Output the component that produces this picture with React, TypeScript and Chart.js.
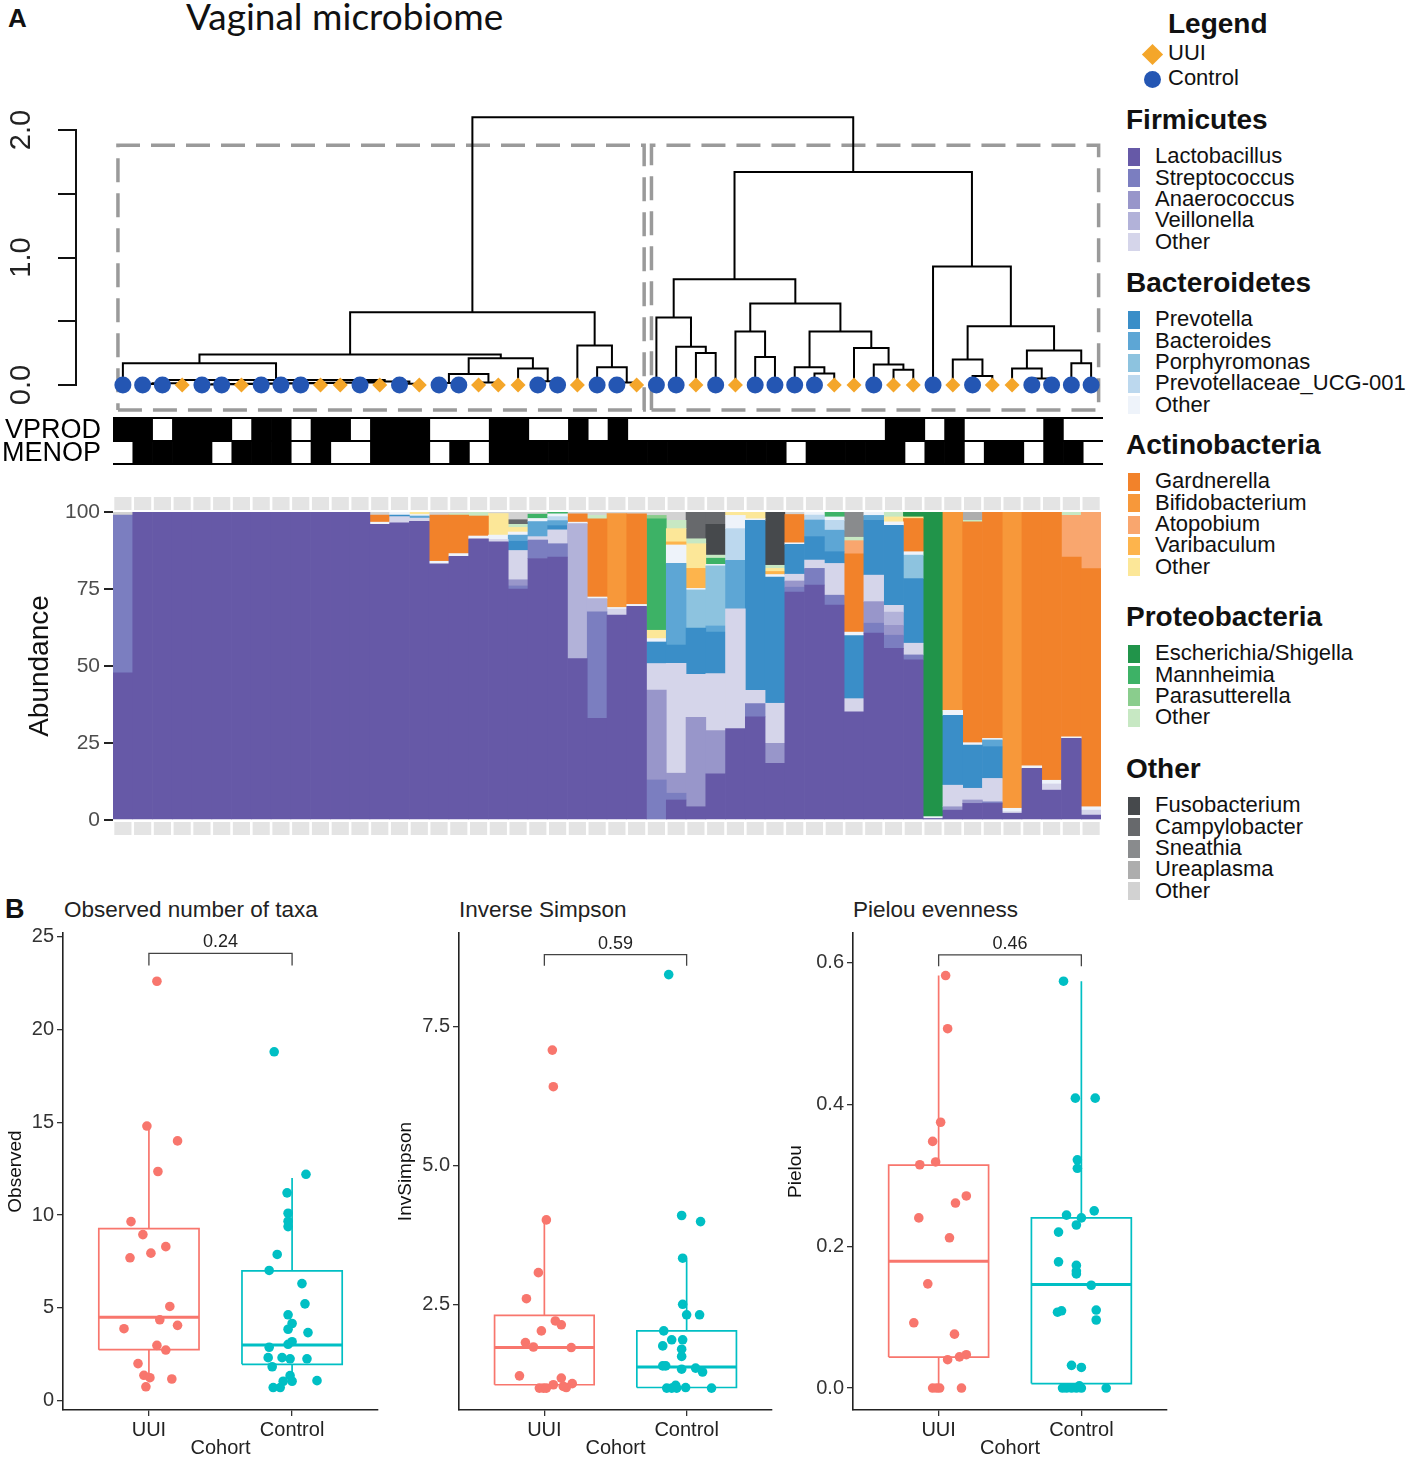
import React, { useEffect, useRef } from 'react';
import { Chart, registerables } from 'chart.js';

Chart.register(...registerables);
const FONT = "'Liberation Sans', Arial, Helvetica, sans-serif";
Chart.defaults.font.family = FONT;

// ================= PANEL A DATA =================
const N_SAMPLES = 50;
const SAMPLE_IDS = Array.from({ length: N_SAMPLES }, (_, i) => `S${i + 1}`);

// U = UUI, C = Control (dendrogram leaf order)
const LEAF_GROUP = [
  'C', 'C', 'C', 'U', 'C', 'C', 'U', 'C', 'C', 'C',
  'U', 'U', 'C', 'U', 'C', 'U', 'C', 'C', 'U', 'U',
  'U', 'C', 'C', 'U', 'C', 'C', 'U', 'C', 'C', 'U',
  'C', 'U', 'C', 'C', 'C', 'C', 'U', 'U', 'C', 'U',
  'U', 'C', 'U', 'C', 'U', 'U', 'C', 'C', 'C', 'C',
];

// hclust-style merges: negative = leaf position, positive = earlier merge row; third = height
const MERGES: [number, number, number][] = [
  [-2, -3, 0.008], [1, -4, 0.014], [-5, -6, 0.004], [3, -7, 0.006], [4, -8, 0.008],
  [5, -9, 0.01], [6, -10, 0.012], [7, -11, 0.014], [8, -12, 0.016], [9, -13, 0.018],
  [10, -14, 0.02], [-15, -16, 0.01], [11, 12, 0.028], [2, 13, 0.04], [-1, 14, 0.17],
  [-17, -18, 0.015], [-19, -20, 0.02], [16, 17, 0.086], [-22, -23, 0.03], [-21, 19, 0.13],
  [18, 20, 0.21], [15, 21, 0.24], [-26, -27, 0.02], [-25, 23, 0.14], [-24, 24, 0.31],
  [22, 25, 0.57],
  [-30, -31, 0.25], [-29, 27, 0.30], [-28, 28, 0.53], [-33, -34, 0.22], [-32, 30, 0.42],
  [-36, -37, 0.09], [-35, 32, 0.14], [-40, -41, 0.12], [-39, 34, 0.16], [-38, 35, 0.29],
  [33, 36, 0.42], [31, 37, 0.64], [29, 38, 0.83], [-44, -45, 0.07], [-43, 40, 0.20],
  [-47, -48, 0.05], [-46, 42, 0.13], [-49, -50, 0.17], [43, 44, 0.27], [41, 45, 0.46],
  [-42, 46, 0.93], [39, 47, 1.67], [26, 48, 2.10],
];
const DENDRO_TICKS = [0, 0.5, 1, 1.5, 2];
const DENDRO_TICK_LABELS = ['0.0', '', '1.0', '', '2.0'];
const CLUSTERS = [[1, 27], [28, 50]];
const CLUSTER_BOX = { padLeft: 0.25, padRight: 0.38, bottom: -0.196, top: 1.88 };

const VPROD = [
  1, 1, 0, 1, 1, 1, 0, 1, 1, 0,
  1, 1, 0, 1, 1, 1, 0, 0, 0, 1,
  1, 0, 0, 1, 0, 1, 0, 0, 0, 0,
  0, 0, 0, 0, 0, 0, 0, 0, 0, 1,
  1, 0, 1, 0, 0, 0, 0, 1, 0, 0,
];
const MENOP = [
  0, 1, 1, 1, 1, 0, 1, 1, 1, 0,
  1, 0, 0, 1, 1, 1, 0, 1, 0, 1,
  1, 1, 1, 1, 1, 1, 1, 1, 1, 1,
  1, 1, 1, 1, 0, 1, 1, 1, 1, 1,
  0, 1, 1, 0, 1, 1, 0, 1, 1, 0,
];

// Relative abundance (%) per sample
const LACTOBACILLUS = [
  47.8, 100, 100, 100, 100, 100, 100, 100, 100, 100,
  100, 100, 100, 96, 96.5, 97, 83.2, 85.6, 91.3, 90.3,
  75, 84.9, 85.4, 52.4, 33, 66.5, 69.4, 0, 6.5, 4.3,
  15, 29.7, 33.5, 18.4, 74, 76.3, 69.8, 35.1, 60.7, 55.7,
  52, 0.5, 3.2, 5.4, 5.4, 2.2, 16.8, 9.7, 26.5, 1.6,
];
const STREPTOCOCCUS: [number, number][] = [[1, 51.2], [21, 1], [22, 6], [23, 4.3], [25, 34.6], [28, 13], [29, 2.2], [33, 4.3], [35, 1.6], [36, 5.4], [37, 3.2], [39, 3.2], [40, 4.3], [41, 1.6], [45, 0.5]];
const ANAEROCOCCUS: [number, number][] = [[21, 2], [28, 29.2], [29, 6.5], [30, 29], [31, 14], [34, 6.5], [35, 2], [39, 7], [40, 3.2], [43, 1.1], [44, 1.1]];
const VEILLONELLA: [number, number][] = [[24, 43.8], [25, 4.3], [40, 4.3]];
const FIRMICUTES_OTHER = [
  0, 0, 0, 0, 0, 0, 0, 0, 0, 0,
  0, 0, 0, 0, 2, 1, 0, 0, 0, 0.8,
  9.5, 1.1, 4.5, 0, 0, 2, 0, 8.6, 35.7, 14,
  18.5, 38.9, 4.3, 13, 2.2, 2.7, 10.3, 4.3, 8.6, 2.2,
  3.8, 0, 7, 3.8, 7.6, 0.5, 0, 2, 0, 1.6,
];
const PREVOTELLA = [
  0, 0, 0, 0, 0, 0, 0, 0, 0, 0,
  0, 0, 0, 0, 0.5, 0, 0, 0, 0, 0,
  3, 0, 1.4, 0, 0, 0, 0, 7, 5.9, 15,
  13.5, 0, 55.2, 41, 9.7, 7.6, 3.8, 20.5, 17.8, 26,
  21, 0, 22.7, 14, 10.3, 0, 0, 0, 0, 0,
];
const BACTEROIDES: [number, number][] = [[16, 0.7], [21, 2], [22, 4.9], [23, 1.6], [29, 26.5], [31, 2], [32, 15.7], [36, 5.4], [37, 7], [39, 1.6], [45, 2.2]];
const PORPHYROMONAS: [number, number][] = [[30, 12.4], [31, 19.5], [41, 7.6]];
const PREVOTELLACEAE_UCG001: [number, number][] = [[23, 1.3], [32, 10.3], [36, 1.6], [37, 3.2]];
const BACTEROIDETES_OTHER = [
  0, 0, 0, 0, 0, 0, 0, 0, 0, 0,
  0, 0, 0, 0.7, 1, 0.5, 0.8, 0.9, 0.9, 1.4,
  1, 1, 0.9, 0.5, 0.5, 0.5, 0.6, 1.1, 6, 0.5,
  0.5, 4.3, 0.5, 0.8, 0.5, 1, 1.1, 1.1, 1.1, 1.1,
  1.1, 0.6, 1.6, 0.8, 0.5, 1.1, 0.8, 1.2, 0.5, 1.1,
];
const GARDNERELLA = [
  0, 0, 0, 0, 0, 0, 0, 0, 0, 0,
  0, 0, 0, 2.3, 0, 0, 15, 12.5, 6.5, 0,
  0, 0, 0, 2.7, 25.4, 0, 29.4, 0, 0, 0,
  0, 0, 0, 0, 9.2, 0, 0, 25.4, 0, 0,
  10.8, 0, 0, 71.7, 73.5, 0, 82.4, 87.1, 58.4, 77.3,
];
const BIFIDOBACTERIUM: [number, number][] = [[26, 30.5], [43, 64.4], [46, 96.2]];
const ATOPOBIUM: [number, number][] = [[38, 4.3], [49, 13.5], [50, 18.4]];
const VARIBACULUM: [number, number][] = [[29, 1], [30, 6.5], [34, 1]];
const ACTINOBACTERIA_OTHER: [number, number][] = [[16, 0.8], [20, 7], [21, 1.5], [28, 2.7], [29, 4.3], [30, 8], [32, 1.1], [33, 2.2], [34, 1], [40, 1.6], [41, 0.5]];
const ESCHERICHIA_SHIGELLA: [number, number][] = [[41, 1.6], [42, 98.9]];
const MANNHEIMIA: [number, number][] = [[22, 1.4], [23, 0.5], [28, 36.2], [31, 2], [37, 1.6]];
const PARASUTTERELLA: [number, number][] = [[28, 1.1]];
const PROTEOBACTERIA_OTHER: [number, number][] = [[18, 0.5], [19, 1.3], [21, 1], [25, 1.1], [29, 2.7], [30, 1.6], [31, 1], [34, 1], [38, 1.1], [40, 1.6], [44, 0.5], [49, 1.1]];
const FUSOBACTERIUM: [number, number][] = [[31, 10], [34, 17.3]];
const CAMPYLOBACTER: [number, number][] = [[21, 1.5], [30, 8.7], [31, 4]];
const SNEATHIA: [number, number][] = [[38, 8.2]];
const UREAPLASMA: [number, number][] = [[44, 2.7]];
const OTHER_OTHER: [number, number][] = [[1, 1], [14, 1], [17, 1], [18, 0.5], [20, 0.5], [21, 2.5], [22, 0.7], [24, 0.6], [25, 1.1], [26, 0.5], [27, 0.6], [28, 1.1], [29, 2.7], [35, 0.8]];

const PHYLA = ['Firmicutes', 'Bacteroidetes', 'Actinobacteria', 'Proteobacteria', 'Other'];
const GENERA = [
  ['Lactobacillus', 'Streptococcus', 'Anaerococcus', 'Veillonella', 'Other'],
  ['Prevotella', 'Bacteroides', 'Porphyromonas', 'Prevotellaceae_UCG-001', 'Other'],
  ['Gardnerella', 'Bifidobacterium', 'Atopobium', 'Varibaculum', 'Other'],
  ['Escherichia/Shigella', 'Mannheimia', 'Parasutterella', 'Other'],
  ['Fusobacterium', 'Campylobacter', 'Sneathia', 'Ureaplasma', 'Other'],
];
const GENUS_COLORS = [
  ['#6659A7', '#7B7EC0', '#9896CA', '#B2B2D9', '#D5D5EA'],
  ['#3A8EC8', '#5DA6D5', '#8DC3DF', '#BCD8EE', '#EEF3FA'],
  ['#F2822A', '#F7983A', '#F9A66E', '#FDB44C', '#FCE798'],
  ['#21944A', '#3DB266', '#8ACD8D', '#C7E8C3'],
  ['#46494C', '#67696C', '#898B8D', '#ADADAD', '#D2D2D2'],
];

const dense = (pairs: [number, number][]) => {
  const a = new Array(N_SAMPLES).fill(0);
  pairs.forEach(([s, v]) => { a[s - 1] = v; });
  return a;
};
const ABUNDANCE = [
  [LACTOBACILLUS, dense(STREPTOCOCCUS), dense(ANAEROCOCCUS), dense(VEILLONELLA), FIRMICUTES_OTHER],
  [PREVOTELLA, dense(BACTEROIDES), dense(PORPHYROMONAS), dense(PREVOTELLACEAE_UCG001), BACTEROIDETES_OTHER],
  [GARDNERELLA, dense(BIFIDOBACTERIUM), dense(ATOPOBIUM), dense(VARIBACULUM), dense(ACTINOBACTERIA_OTHER)],
  [dense(ESCHERICHIA_SHIGELLA), dense(MANNHEIMIA), dense(PARASUTTERELLA), dense(PROTEOBACTERIA_OTHER)],
  [dense(FUSOBACTERIUM), dense(CAMPYLOBACTER), dense(SNEATHIA), dense(UREAPLASMA), dense(OTHER_OTHER)],
];
const ABUND_TICKS = [0, 25, 50, 75, 100];

// ================= PANEL B DATA =================
const COHORTS = ['UUI', 'Control'];
const COHORT_COLORS = ['#F8766D', '#00BFC4'];

const OBS_UUI_Y = [22.6, 14.8, 14.0, 12.35, 9.65, 8.95, 7.7, 7.95, 8.3, 5.08, 4.36, 3.88, 4.06, 2.98, 2.73, 2.0, 1.37, 1.24, 1.17, 0.75];
const OBS_UUI_X = [1.056, 0.986, 1.2, 1.063, 0.875, 0.958, 0.868, 1.014, 1.118, 1.146, 1.076, 0.826, 1.2, 1.056, 1.118, 0.924, 0.965, 1.007, 1.16, 0.979];
const OBS_CTRL_Y = [18.8, 12.2, 11.2, 10.1, 9.67, 9.38, 7.88, 7.02, 6.31, 5.22, 4.63, 4.16, 3.85, 3.67, 3.18, 3.04, 2.88, 2.32, 2.32, 2.26, 2.26, 1.83, 1.35, 1.05, 1.05, 1.08, 0.71, 0.71];
const OBS_CTRL_X = [1.875, 2.097, 1.965, 1.972, 1.972, 1.972, 1.896, 1.84, 2.069, 2.09, 1.972, 2.0, 1.972, 2.111, 2.0, 1.972, 1.84, 1.833, 1.93, 1.986, 2.104, 1.861, 1.986, 1.938, 2.0, 2.174, 1.868, 1.917];
const OBS_BOX_UUI = [1, 2.75, 4.5, 9.27, 14.9];
const OBS_BOX_CTRL = [1, 1.96, 3.0, 7.0, 12.0];

const INV_UUI_Y = [7.08, 6.42, 4.02, 3.07, 2.6, 2.2, 2.13, 2.02, 1.81, 1.73, 1.72, 1.21, 1.17, 1.05, 1.07, 1.0, 0.99, 0.99, 0.99, 1.02];
const INV_UUI_X = [1.056, 1.063, 1.014, 0.958, 0.874, 1.077, 1.119, 0.979, 0.867, 0.923, 1.189, 0.825, 1.119, 1.063, 1.196, 1.154, 0.965, 0.993, 1.014, 1.133];
const INV_CTRL_Y = [8.44, 4.1, 3.99, 3.33, 2.5, 2.31, 2.31, 2.02, 1.86, 1.86, 1.75, 1.69, 1.56, 1.39, 1.39, 1.33, 1.35, 1.28, 1.04, 0.99, 0.99, 0.99, 1.0, 0.99];
const INV_CTRL_X = [1.874, 1.965, 2.098, 1.972, 1.972, 2.0, 2.091, 1.839, 1.895, 1.972, 1.832, 1.965, 1.965, 1.832, 1.853, 1.965, 2.063, 2.112, 1.923, 1.86, 1.895, 1.93, 1.993, 2.175];
const INV_BOX_UUI = [1.0, 1.05, 1.72, 2.30, 4.02];
const INV_BOX_CTRL = [1.0, 1.0, 1.37, 2.02, 3.31];

const PIE_UUI_Y = [0.582, 0.507, 0.375, 0.348, 0.319, 0.315, 0.271, 0.261, 0.24, 0.212, 0.147, 0.092, 0.076, 0.047, 0.044, 0.040, 0, 0, 0, 0];
const PIE_UUI_X = [1.049, 1.063, 1.014, 0.958, 0.979, 0.868, 1.194, 1.118, 0.861, 1.076, 0.924, 0.826, 1.111, 1.194, 1.146, 1.063, 0.958, 0.986, 1.007, 1.16];
const PIE_CTRL_Y = [0.574, 0.409, 0.409, 0.322, 0.31, 0.244, 0.25, 0.23, 0.24, 0.22, 0.178, 0.173, 0.165, 0.161, 0.145, 0.107, 0.109, 0.11, 0.096, 0.032, 0.029, 0, 0, 0, 0, 0.003, 0, 0];
const PIE_CTRL_X = [1.875, 1.958, 2.097, 1.972, 1.972, 1.896, 2.09, 1.965, 2.0, 1.84, 1.84, 1.965, 1.965, 1.965, 2.069, 1.833, 1.861, 2.104, 2.104, 1.931, 2.0, 1.868, 1.896, 1.931, 1.965, 1.986, 2.0, 2.174];
const PIE_BOX_UUI = [0, 0.0437, 0.179, 0.3145, 0.582];
const PIE_BOX_CTRL = [0, 0.0063, 0.146, 0.24, 0.574];

// ================= CHART BUILDERS =================
const noInteract = { animation: false as const, responsive: false, events: [] as any[] };
const quiet = { legend: { display: false }, tooltip: { enabled: false } };
const noScalePad = (s: any) => { s.paddingTop = 0; s.paddingBottom = 0; s.paddingLeft = 0; s.paddingRight = 0; };

function dendroConfig(): any {
  const nodeX: number[] = [];
  const nodeH: number[] = [];
  const ref = (r: number) => (r < 0 ? { x: -r, h: 0 } : { x: nodeX[r - 1], h: nodeH[r - 1] });
  const seg: any[] = [];
  MERGES.forEach(([a, b, h]) => {
    const A = ref(a), B = ref(b);
    seg.push({ x: A.x, y: A.h }, { x: A.x, y: h }, { x: B.x, y: h }, { x: B.x, y: B.h }, { x: B.x, y: null });
    nodeX.push((A.x + B.x) / 2);
    nodeH.push(h);
  });
  const boxes: any[] = [];
  CLUSTERS.forEach(([s, e]) => {
    const l = s - CLUSTER_BOX.padLeft, r = e + CLUSTER_BOX.padRight;
    boxes.push({ x: l, y: CLUSTER_BOX.bottom }, { x: r, y: CLUSTER_BOX.bottom }, { x: r, y: CLUSTER_BOX.top },
      { x: l, y: CLUSTER_BOX.top }, { x: l, y: CLUSTER_BOX.bottom }, { x: l, y: null });
  });
  const leaves = (g: string) => LEAF_GROUP.map((v, i) => (v === g ? { x: i + 1, y: 0 } : null)).filter(Boolean);
  const axisPlugin = {
    id: 'dendroAxis',
    afterDraw(chart: any) {
      const { ctx, chartArea, scales: { y } } = chart;
      ctx.save();
      ctx.strokeStyle = '#111';
      ctx.lineWidth = 2;
      ctx.beginPath();
      ctx.moveTo(chartArea.left - 1, y.getPixelForValue(DENDRO_TICKS[0]) + 1);
      ctx.lineTo(chartArea.left - 1, y.getPixelForValue(DENDRO_TICKS[DENDRO_TICKS.length - 1]) - 1);
      ctx.stroke();
      ctx.fillStyle = '#222';
      ctx.font = `29px ${FONT}`;
      ctx.textAlign = 'center';
      ctx.textBaseline = 'middle';
      DENDRO_TICKS.forEach((v, i) => {
        const lab = DENDRO_TICK_LABELS[i];
        if (!lab) return;
        ctx.save();
        ctx.translate(22, y.getPixelForValue(v));
        ctx.rotate(-Math.PI / 2);
        ctx.fillText(lab, 0, 0);
        ctx.restore();
      });
      ctx.restore();
    },
  };
  return {
    type: 'scatter',
    data: {
      datasets: [
        { data: leaves('U'), pointStyle: 'rectRot', pointRadius: 7.5, backgroundColor: '#F4A62A', pointBackgroundColor: '#F4A62A', pointBorderWidth: 0, order: 0, clip: false },
        { data: leaves('C'), pointStyle: 'circle', pointRadius: 8.5, backgroundColor: '#2456B3', pointBackgroundColor: '#2456B3', pointBorderWidth: 0, order: 0, clip: false },
        { data: seg, showLine: true, borderColor: '#000', borderWidth: 2, pointRadius: 0, spanGaps: false, order: 1, clip: false, borderJoinStyle: 'miter' },
        { data: boxes, showLine: true, borderColor: '#9A9A9A', borderWidth: 3.5, borderDash: [24, 11], pointRadius: 0, spanGaps: false, order: 2, clip: false },
      ],
    },
    options: {
      ...noInteract,
      layout: { padding: { top: 15.9, bottom: 10.7, left: 0, right: 9 } },
      plugins: quiet,
      scales: {
        x: { type: 'linear', min: -1.322, max: 50.5, display: false },
        y: {
          type: 'linear', min: -0.23, max: 2.15,
          afterFit: (s: any) => { s.width = 77; noScalePad(s); },
          afterBuildTicks: (s: any) => { s.ticks = DENDRO_TICKS.map((v) => ({ value: v })); },
          ticks: { display: false },
          grid: { drawOnChartArea: false, tickLength: 19, color: '#111', lineWidth: 2 },
          border: { display: false },
        },
      },
    },
    plugins: [axisPlugin],
  };
}

function metaConfig(): any {
  const labelPlugin = {
    id: 'metaLabels',
    afterDraw(chart: any) {
      const { ctx, chartArea, scales: { y } } = chart;
      ctx.save();
      ctx.fillStyle = '#000';
      ctx.font = `27px ${FONT}`;
      ctx.textAlign = 'right';
      ctx.textBaseline = 'middle';
      ctx.fillText('VPROD', chartArea.left - 12, y.getPixelForValue(1.5) + 1);
      ctx.fillText('MENOP', chartArea.left - 12, y.getPixelForValue(0.5) + 1);
      ctx.restore();
    },
  };
  const bar = { backgroundColor: '#000', borderWidth: 0, barPercentage: 1, categoryPercentage: 1, grouped: false };
  return {
    type: 'bar',
    data: {
      labels: SAMPLE_IDS,
      datasets: [
        { ...bar, data: VPROD.map((v) => (v ? [1, 2] : null)) },
        { ...bar, data: MENOP.map((v) => (v ? [0, 1] : null)) },
      ],
    },
    options: {
      ...noInteract,
      layout: { padding: { top: 6, bottom: 6, left: 113, right: 7 } },
      plugins: quiet,
      scales: {
        x: { display: false },
        y: {
          min: 0, max: 2,
          afterFit: (s: any) => { s.width = 0; noScalePad(s); },
          afterBuildTicks: (s: any) => { s.ticks = [0, 1, 2].map((v) => ({ value: v })); },
          ticks: { display: false },
          grid: { color: '#000', lineWidth: 2, drawTicks: false },
          border: { display: false },
        },
      },
    },
    plugins: [labelPlugin],
  };
}

function abundanceConfig(): any {
  const datasets: any[] = [];
  GENERA.forEach((names, p) => names.forEach((name, g) => {
    datasets.push({
      label: `${PHYLA[p]} ${name}`,
      data: ABUNDANCE[p][g].map((v: number) => (v > 0 ? v : null)),
      backgroundColor: GENUS_COLORS[p][g],
      borderWidth: 0, barPercentage: 1, categoryPercentage: 1,
    });
  }));
  const stripPlugin = {
    id: 'strips',
    afterDraw(chart: any) {
      const { ctx, chartArea: { top, bottom }, scales: { x, y } } = chart;
      const w = x.getPixelForValue(1) - x.getPixelForValue(0);
      ctx.save();
      ctx.fillStyle = '#E4E4E4';
      for (let i = 0; i < N_SAMPLES; i++) {
        const cx = x.getPixelForValue(i);
        ctx.fillRect(cx - w / 2 + 1.3, top - 15, w - 2.6, 13);
        ctx.fillRect(cx - w / 2 + 1.3, bottom + 2, w - 2.6, 13);
      }
      ctx.fillStyle = '#111';
      ctx.font = `28px ${FONT}`;
      ctx.textAlign = 'center';
      ctx.textBaseline = 'middle';
      ctx.translate(40, (y.getPixelForValue(0) + y.getPixelForValue(100)) / 2);
      ctx.rotate(-Math.PI / 2);
      ctx.fillText('Abundance', 0, 0);
      ctx.restore();
    },
  };
  return {
    type: 'bar',
    data: { labels: SAMPLE_IDS, datasets },
    options: {
      ...noInteract,
      layout: { padding: { top: 27, bottom: 35, left: 0, right: 9 } },
      plugins: quiet,
      scales: {
        x: { stacked: true, display: false },
        y: {
          stacked: true, min: 0, max: 100,
          afterFit: (s: any) => { s.width = 113; noScalePad(s); },
          afterBuildTicks: (s: any) => { s.ticks = ABUND_TICKS.map((v) => ({ value: v })); },
          ticks: { font: { size: 21 }, color: '#4D4D4D', padding: 4 },
          grid: { drawOnChartArea: false, tickLength: 9, color: '#222', lineWidth: 2 },
          border: { display: false },
        },
      },
    },
    plugins: [stripPlugin],
  };
}

const BOX_HALF = 0.35;
function boxConfig(o: any): any {
  const groups = [
    { g: 1, xs: o.uuiX, ys: o.uuiY, box: o.uuiBox, color: COHORT_COLORS[0] },
    { g: 2, xs: o.ctrlX, ys: o.ctrlY, box: o.ctrlBox, color: COHORT_COLORS[1] },
  ];
  const datasets: any[] = [];
  groups.forEach((G) => {
    const [lo, q1, med, q3, hi] = G.box;
    const L = G.g - BOX_HALF, R = G.g + BOX_HALF;
    datasets.push({ data: G.ys.map((y: number, i: number) => ({ x: G.xs[i], y })), pointRadius: 4.8, backgroundColor: G.color, pointBackgroundColor: G.color, pointBorderWidth: 0, order: 0, clip: false });
    datasets.push({ data: [{ x: L, y: q1 }, { x: R, y: q1 }, { x: R, y: q3 }, { x: L, y: q3 }, { x: L, y: q1 }], showLine: true, borderColor: G.color, borderWidth: 1.7, pointRadius: 0, order: 1, borderJoinStyle: 'miter' });
    datasets.push({ data: [{ x: L, y: med }, { x: R, y: med }], showLine: true, borderColor: G.color, borderWidth: 3, pointRadius: 0, order: 1 });
    datasets.push({ data: [{ x: G.g, y: q3 }, { x: G.g, y: hi }, { x: G.g, y: null }, { x: G.g, y: q1 }, { x: G.g, y: lo }], showLine: true, spanGaps: false, borderColor: G.color, borderWidth: 1.7, pointRadius: 0, order: 1 });
  });
  datasets.push({ data: [{ x: 1, y: o.bracket[1] }, { x: 1, y: o.bracket[0] }, { x: 2, y: o.bracket[0] }, { x: 2, y: o.bracket[1] }], showLine: true, borderColor: '#444', borderWidth: 1.3, pointRadius: 0, order: 1, clip: false });
  const pPlugin = {
    id: 'pval',
    afterDraw(chart: any) {
      const { ctx, scales: { x, y } } = chart;
      ctx.save();
      ctx.font = `18px ${FONT}`;
      ctx.fillStyle = '#222';
      ctx.textAlign = 'center';
      ctx.textBaseline = 'middle';
      ctx.fillText(o.pLabel, x.getPixelForValue(1.5), y.getPixelForValue(o.bracket[0]) - 11);
      ctx.restore();
    },
  };
  return {
    type: 'scatter',
    data: { datasets },
    options: {
      ...noInteract,
      layout: { padding: { top: 8, bottom: 0, left: 0, right: o.padRight } },
      plugins: quiet,
      scales: {
        x: {
          type: 'linear', min: 0.4, max: 2.6,
          afterFit: (s: any) => { s.height = 50; noScalePad(s); },
          afterBuildTicks: (s: any) => { s.ticks = [1, 2].map((v) => ({ value: v })); },
          ticks: { font: { size: 20 }, color: '#222', padding: 2, callback: (_v: any, i: number) => COHORTS[i] },
          grid: { drawOnChartArea: false, tickLength: 6, color: '#333', lineWidth: 1.3 },
          border: { display: true, color: '#222', width: 1.6 },
          title: { display: true, text: 'Cohort', font: { size: 20 }, color: '#222', padding: { top: 0, bottom: 0 } },
        },
        y: {
          type: 'linear', min: o.yMin, max: o.yMax,
          afterFit: (s: any) => { s.width = o.axisWidth; noScalePad(s); },
          afterBuildTicks: (s: any) => { s.ticks = o.yTicks.map((v: number) => ({ value: v })); },
          ticks: { font: { size: 20 }, color: '#333', padding: 3, callback: (_v: any, i: number) => o.yTickLabels[i] },
          grid: { drawOnChartArea: false, tickLength: 6, color: '#333', lineWidth: 1.3 },
          border: { display: true, color: '#222', width: 1.6 },
          title: { display: true, text: o.yTitle, font: { size: 19 }, color: '#111', padding: { top: 4, bottom: 0 } },
        },
      },
    },
    plugins: [pPlugin],
  };
}

// ================= COMPONENTS =================
function ChartCanvas({ left, top, width, height, make }: any) {
  const ref = useRef<HTMLCanvasElement>(null);
  useEffect(() => {
    const chart = new Chart(ref.current as HTMLCanvasElement, make());
    return () => chart.destroy();
  }, []);
  return <canvas ref={ref} width={width} height={height} style={{ position: 'absolute', left, top, width, height }} />;
}

function Txt({ x, cy, size, bold = false, family = FONT, color = '#111', children }: any) {
  return (
    <div style={{ position: 'absolute', left: x, top: cy - size * 0.62, fontSize: size, lineHeight: `${Math.round(size * 1.2)}px`, fontWeight: bold ? 700 : 400, fontFamily: family, color, whiteSpace: 'nowrap' }}>
      {children}
    </div>
  );
}

const HEAD_Y = [120, 283, 445, 617, 769];
const ITEM_DY0 = 37;
const ITEM_STEP = 21.3;

export default function App() {
  return (
    <div style={{ position: 'absolute', left: 0, top: 0, width: 1413, height: 1460, background: '#fff', overflow: 'hidden', fontFamily: FONT }}>
      <ChartCanvas left={0} top={95} width={1110} height={330} make={dendroConfig} />
      <ChartCanvas left={0} top={412} width={1110} height={58} make={metaConfig} />
      <ChartCanvas left={0} top={485} width={1110} height={370} make={abundanceConfig} />
      <ChartCanvas left={0} top={925} width={390} height={535} make={() => boxConfig({
        uuiX: OBS_UUI_X, uuiY: OBS_UUI_Y, ctrlX: OBS_CTRL_X, ctrlY: OBS_CTRL_Y, uuiBox: OBS_BOX_UUI, ctrlBox: OBS_BOX_CTRL,
        yMin: -0.5, yMax: 25.2, yTicks: [0, 5, 10, 15, 20, 25], yTickLabels: ['0', '5', '10', '15', '20', '25'],
        yTitle: 'Observed', bracket: [24.1, 23.45], pLabel: '0.24', axisWidth: 63, padRight: 12,
      })} />
      <ChartCanvas left={390} top={925} width={400} height={535} make={() => boxConfig({
        uuiX: INV_UUI_X, uuiY: INV_UUI_Y, ctrlX: INV_CTRL_X, ctrlY: INV_CTRL_Y, uuiBox: INV_BOX_UUI, ctrlBox: INV_BOX_CTRL,
        yMin: 0.595, yMax: 9.19, yTicks: [2.5, 5, 7.5], yTickLabels: ['2.5', '5.0', '7.5'],
        yTitle: 'InvSimpson', bracket: [8.8, 8.6], pLabel: '0.59', axisWidth: 69, padRight: 18,
      })} />
      <ChartCanvas left={780} top={925} width={400} height={535} make={() => boxConfig({
        uuiX: PIE_UUI_X, uuiY: PIE_UUI_Y, ctrlX: PIE_CTRL_X, ctrlY: PIE_CTRL_Y, uuiBox: PIE_BOX_UUI, ctrlBox: PIE_BOX_CTRL,
        yMin: -0.031, yMax: 0.642, yTicks: [0, 0.2, 0.4, 0.6], yTickLabels: ['0.0', '0.2', '0.4', '0.6'],
        yTitle: 'Pielou', bracket: [0.611, 0.595], pLabel: '0.46', axisWidth: 73, padRight: 13,
      })} />

      <Txt x={8} cy={19} size={26} bold>A</Txt>
      <Txt x={186} cy={17} size={37} family="Lato, 'Open Sans', sans-serif" color="#111">Vaginal microbiome</Txt>
      <Txt x={5} cy={910} size={27} bold>B</Txt>
      <Txt x={64} cy={910} size={22.5} color="#222">Observed number of taxa</Txt>
      <Txt x={459} cy={910} size={22.5} color="#222">Inverse Simpson</Txt>
      <Txt x={853} cy={910} size={22.5} color="#222">Pielou evenness</Txt>

      <Txt x={1168} cy={24} size={28} bold>Legend</Txt>
      <div style={{ position: 'absolute', left: 1152 - 7.5, top: 54 - 7.5, width: 15, height: 15, background: '#F4A62A', transform: 'rotate(45deg)' }} />
      <Txt x={1168} cy={54} size={22}>{COHORTS[0]}</Txt>
      <div style={{ position: 'absolute', left: 1152 - 8.5, top: 79 - 8.5, width: 17, height: 17, borderRadius: '50%', background: '#2456B3' }} />
      <Txt x={1168} cy={79} size={22}>{COHORTS[1]}</Txt>

      {PHYLA.map((ph, p) => (
        <React.Fragment key={ph}>
          <Txt x={1126} cy={HEAD_Y[p]} size={28} bold>{ph}</Txt>
          {GENERA[p].map((g, i) => {
            const cy = HEAD_Y[p] + ITEM_DY0 + i * ITEM_STEP;
            return (
              <React.Fragment key={g + i}>
                <div style={{ position: 'absolute', left: 1128, top: cy - 9, width: 12, height: 18, background: GENUS_COLORS[p][i] }} />
                <Txt x={1155} cy={cy} size={22}>{g}</Txt>
              </React.Fragment>
            );
          })}
        </React.Fragment>
      ))}
    </div>
  );
}
